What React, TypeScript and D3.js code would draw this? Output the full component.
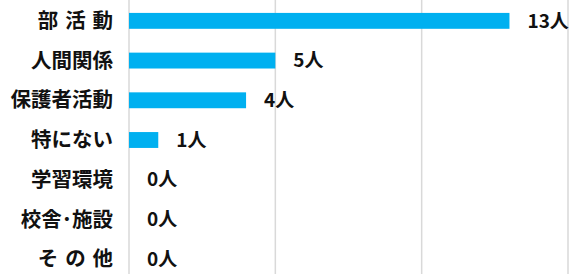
import React from "react";
import * as d3 from "d3";

const categories = ["部\u2004活\u2004動", "人間関係", "保護者活動", "特にない", "学習環境", "校舎･施設", "そ\u2004の\u2004他"];
const counts = [13, 5, 4, 1, 0, 0, 0];
const gridTicks = [0, 5, 10, 15];
const unit = "人";

const App = () => {
  const width = 572;
  const height = 274;
  const left = 129;

  const x = d3.scaleLinear().domain([0, 15]).range([left, 568]);
  const y = d3.scaleBand<string>()
    .domain(categories)
    .range([1, 279])
    .paddingInner(0.6)
    .paddingOuter(0.3);

  const font = "'Noto Sans CJK JP', 'Noto Sans', sans-serif";

  return (
    <svg width={width} height={height} style={{ position: "absolute", left: 0, top: 0 }}>
      <rect width={width} height={height} fill="#fff" />
      {gridTicks.map(t => (
        <line key={t} x1={x(t)} x2={x(t)} y1={0} y2={height} stroke="#d9d9d9" strokeWidth={1.5} />
      ))}
      {categories.map((c, i) => {
        const yy = y(c)!;
        const cy = yy + y.bandwidth() / 2;
        const v = counts[i];
        return (
          <g key={c}>
            {v > 0 && (
              <rect x={x(0)} y={yy} width={x(v) - x(0)} height={y.bandwidth()} fill="#00b0f0" />
            )}
            <text x={113} y={cy} dy="0.35em" textAnchor="end" fontFamily={font}
              fontWeight="bold" fontSize={20.5} fill="#111">{c}</text>
            <text x={x(v) + 18} y={cy} dy="0.35em" fontFamily={font}
              fontWeight="bold" fontSize={19} fill="#111">{v + unit}</text>
          </g>
        );
      })}
    </svg>
  );
};

export default App;
